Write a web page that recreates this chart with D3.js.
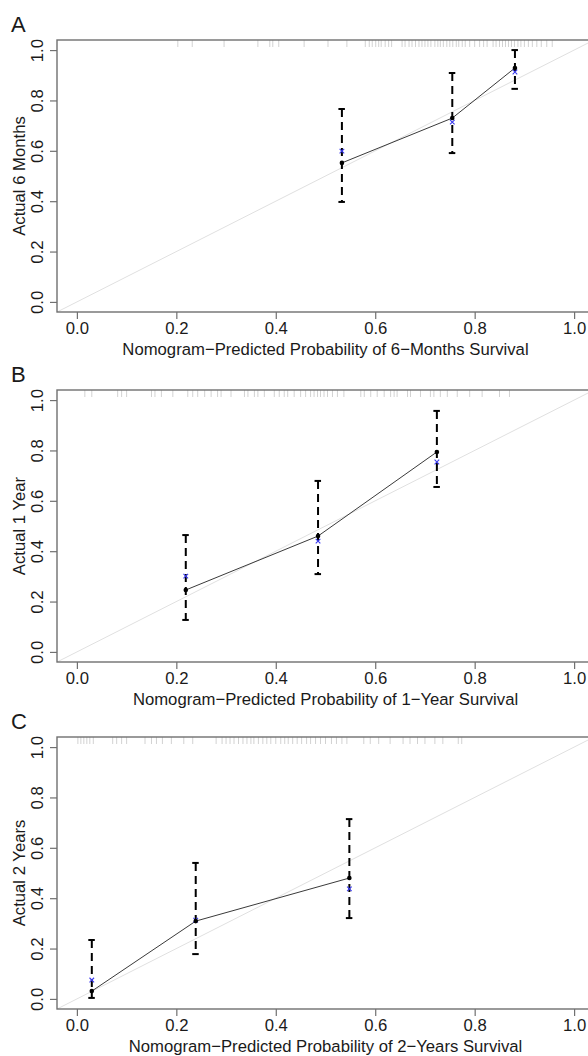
<!DOCTYPE html>
<html>
<head>
<meta charset="utf-8">
<script src="https://cdn.jsdelivr.net/npm/d3@7"></script>
<style>
  body { margin: 0; background: #fff; }
  svg { display: block; }
  text { font-family: "Liberation Sans", Arial, sans-serif; fill: #1a1a1a; }
</style>
</head>
<body>
<div id="chart"></div>
<script>
// panel labels and titles
const panelLetters = ['A', 'B', 'C'];
const yTitles = ['Actual 6 Months', 'Actual 1 Year', 'Actual 2 Years'];
const xTitles = [
    'Nomogram\u2212Predicted Probability of 6\u2212Months Survival',
    'Nomogram\u2212Predicted Probability of 1\u2212Year Survival',
    'Nomogram\u2212Predicted Probability of 2\u2212Years Survival'
];
const tickValues = [0, 0.2, 0.4, 0.6, 0.8, 1.0];

// A: 6 months
const predictedA = [0.533, 0.755, 0.881];
const observedA = [0.552, 0.730, 0.929];
const correctedA = [0.599, 0.714, 0.913];
const lowerA = [0.397, 0.591, 0.846];
const upperA = [0.766, 0.909, 1.000];
const rugA = [0.203, 0.232, 0.296, 0.364, 0.388, 0.394, 0.406, 0.457, 0.505, 0.543,
    0.580, 0.588, 0.594, 0.601, 0.607, 0.612, 0.620, 0.627, 0.633, 0.654, 0.660,
    0.668, 0.674, 0.681, 0.688, 0.694, 0.700, 0.706, 0.712, 0.720, 0.726, 0.731,
    0.737, 0.744, 0.750, 0.756, 0.763, 0.768, 0.775, 0.781, 0.790, 0.800, 0.810,
    0.818, 0.825, 0.837, 0.843, 0.850, 0.856, 0.862, 0.868, 0.874, 0.880, 0.887,
    0.893, 0.900, 0.908, 0.916, 0.925, 0.934, 0.945, 0.956];

// B: 1 year
const predictedB = [0.219, 0.485, 0.724];
const observedB = [0.246, 0.460, 0.794];
const correctedB = [0.301, 0.440, 0.754];
const lowerB = [0.127, 0.309, 0.655];
const upperB = [0.464, 0.679, 0.957];
const rugB = [0.016, 0.030, 0.082, 0.090, 0.100, 0.150, 0.157, 0.170, 0.193, 0.223,
    0.233, 0.243, 0.257, 0.270, 0.283, 0.290, 0.310, 0.337, 0.344, 0.357, 0.364,
    0.377, 0.397, 0.407, 0.417, 0.424, 0.437, 0.450, 0.460, 0.470, 0.477, 0.484,
    0.490, 0.497, 0.504, 0.514, 0.524, 0.537, 0.571, 0.578, 0.591, 0.604, 0.618,
    0.631, 0.638, 0.644, 0.665, 0.671, 0.691, 0.711, 0.718, 0.731, 0.745, 0.765,
    0.790, 0.815, 0.850, 0.870];

// C: 2 years
const predictedC = [0.030, 0.239, 0.548];
const observedC = [0.031, 0.309, 0.480];
const correctedC = [0.075, 0.313, 0.437];
const lowerC = [0.004, 0.178, 0.321];
const upperC = [0.234, 0.540, 0.714];
const rugC = [0.002, 0.008, 0.014, 0.020, 0.026, 0.033, 0.072, 0.080, 0.090, 0.100,
    0.137, 0.150, 0.160, 0.172, 0.190, 0.215, 0.233, 0.280, 0.292, 0.300, 0.308,
    0.316, 0.325, 0.334, 0.342, 0.350, 0.356, 0.365, 0.374, 0.382, 0.390, 0.400,
    0.410, 0.418, 0.425, 0.434, 0.443, 0.452, 0.462, 0.470, 0.480, 0.490, 0.500,
    0.512, 0.522, 0.533, 0.543, 0.577, 0.590, 0.607, 0.630, 0.656, 0.670, 0.685,
    0.700, 0.720, 0.736, 0.767, 0.774];

const panels = [
    {predicted: predictedA, observed: observedA, corrected: correctedA, lower: lowerA, upper: upperA, rug: rugA},
    {predicted: predictedB, observed: observedB, corrected: correctedB, lower: lowerB, upper: upperB, rug: rugB},
    {predicted: predictedC, observed: observedC, corrected: correctedC, lower: lowerC, upper: upperC, rug: rugC}
];

const width = 588, height = 1056;
const plotLeft = 57, plotRight = 594, plotH = 272;
const plotTops = [40, 390, 737];
const axisGrey = '#707070';
const fontSize = '16.7px';

const svg = d3.select('#chart').append('svg')
    .attr('width', width)
    .attr('height', height);

const x = d3.scaleLinear().domain([-0.04, 1.04]).range([plotLeft, plotRight]);

panels.forEach((p, i) => {
    const top = plotTops[i], bottom = top + plotH;
    const y = d3.scaleLinear().domain([-0.04, 1.04]).range([bottom, top]);
    const g = svg.append('g');

    // panel letter
    g.append('text')
        .attr('x', 11).attr('y', top - 8)
        .style('font-size', '22px')
        .text(panelLetters[i]);

    // ideal diagonal
    g.append('line')
        .attr('x1', x(-0.04)).attr('y1', y(-0.04))
        .attr('x2', x(1.04)).attr('y2', y(1.04))
        .style('stroke', '#e0e0e0')
        .style('stroke-width', 1);

    // rug of predicted values at the top
    g.append('g').selectAll('line')
        .data(p.rug)
        .enter().append('line')
        .attr('x1', d => x(d)).attr('x2', d => x(d))
        .attr('y1', top).attr('y2', top + 7)
        .style('stroke', '#d2d2d2')
        .style('stroke-width', 1);

    // box
    g.append('rect')
        .attr('x', plotLeft).attr('y', top)
        .attr('width', plotRight - plotLeft).attr('height', plotH)
        .style('fill', 'none')
        .style('stroke', axisGrey)
        .style('stroke-width', 1.4);

    // x axis
    const xAxis = g.append('g')
        .attr('transform', `translate(0,${bottom})`)
        .call(d3.axisBottom(x).tickValues(tickValues).tickFormat(d3.format('.1f')).tickSize(7).tickSizeOuter(0));
    xAxis.select('.domain').remove();
    xAxis.selectAll('line').style('stroke', axisGrey).style('stroke-width', 1.2);
    xAxis.selectAll('text')
        .attr('y', 22).attr('dy', null)
        .style('font-size', fontSize)
        .style('font-family', '"Liberation Sans", Arial, sans-serif')
        .style('fill', '#1a1a1a');

    // y axis with rotated labels
    const yAxis = g.append('g')
        .attr('transform', `translate(${plotLeft},0)`)
        .call(d3.axisLeft(y).tickValues(tickValues).tickFormat(d3.format('.1f')).tickSize(7).tickSizeOuter(0));
    yAxis.select('.domain').remove();
    yAxis.selectAll('line').style('stroke', axisGrey).style('stroke-width', 1.2);
    yAxis.selectAll('text')
        .attr('x', null).attr('dy', null)
        .attr('text-anchor', 'middle')
        .attr('transform', 'translate(-14,0) rotate(-90)')
        .style('font-size', fontSize)
        .style('font-family', '"Liberation Sans", Arial, sans-serif')
        .style('fill', '#1a1a1a');

    // axis titles
    g.append('text')
        .attr('x', (plotLeft + plotRight) / 2).attr('y', bottom + 43)
        .attr('text-anchor', 'middle')
        .style('font-size', fontSize)
        .text(xTitles[i]);

    g.append('text')
        .attr('transform', `translate(25,${(top + bottom) / 2}) rotate(-90)`)
        .attr('text-anchor', 'middle')
        .style('font-size', fontSize)
        .text(yTitles[i]);

    const idx = d3.range(p.predicted.length);

    // dashed error bars
    g.append('g').selectAll('line')
        .data(idx)
        .enter().append('line')
        .attr('x1', d => x(p.predicted[d])).attr('x2', d => x(p.predicted[d]))
        .attr('y1', d => y(p.upper[d])).attr('y2', d => y(p.lower[d]))
        .style('stroke', '#000')
        .style('stroke-width', 2)
        .style('stroke-dasharray', '8,5');

    // caps
    const caps = idx.flatMap(d => [
        {x: p.predicted[d], v: p.lower[d]},
        {x: p.predicted[d], v: p.upper[d]}
    ]);
    g.append('g').selectAll('line')
        .data(caps)
        .enter().append('line')
        .attr('x1', d => x(d.x) - 3.5).attr('x2', d => x(d.x) + 3)
        .attr('y1', d => y(d.v)).attr('y2', d => y(d.v))
        .style('stroke', '#000')
        .style('stroke-width', 2);

    // observed line
    const line = d3.line()
        .x(d => x(p.predicted[d]))
        .y(d => y(p.observed[d]));
    g.append('path')
        .datum(idx)
        .attr('d', line)
        .style('fill', 'none')
        .style('stroke', '#3a3a3a')
        .style('stroke-width', 1);

    // bias-corrected crosses
    g.append('g').selectAll('path')
        .data(idx)
        .enter().append('path')
        .attr('transform', d => `translate(${x(p.predicted[d])},${y(p.corrected[d])})`)
        .attr('d', 'M-2.3,-2.3L2.3,2.3M-2.3,2.3L2.3,-2.3')
        .style('stroke', '#3a3aee')
        .style('stroke-width', 1.1);

    // observed dots
    g.append('g').selectAll('circle')
        .data(idx)
        .enter().append('circle')
        .attr('cx', d => x(p.predicted[d]))
        .attr('cy', d => y(p.observed[d]))
        .attr('r', 2.3)
        .style('fill', '#000');
});
</script>
</body>
</html>
